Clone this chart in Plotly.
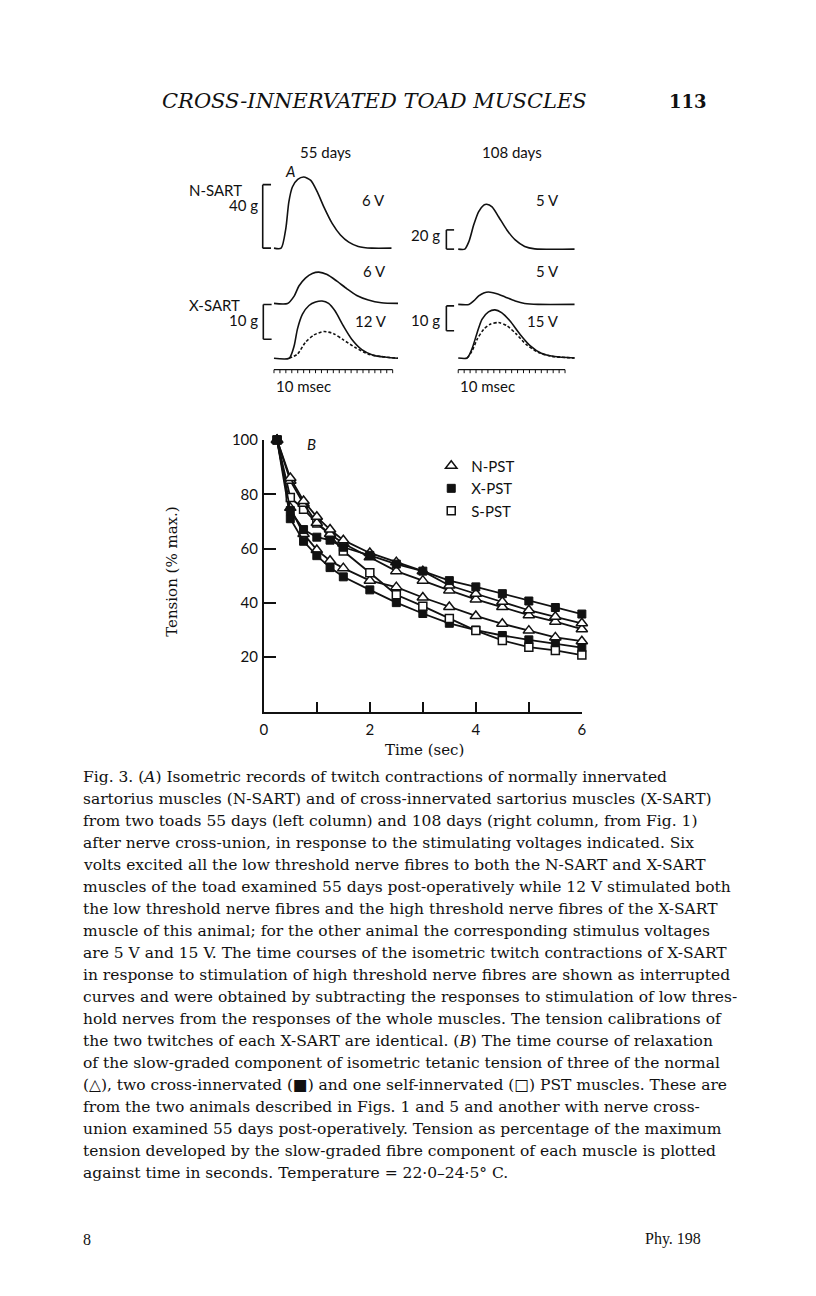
import plotly.graph_objects as go

W, H = 816, 1296

# ---------------- Panel B data (relaxation of slow-graded tension) ----------------
time_s = [0.25, 0.5, 0.75, 1.0, 1.25, 1.5, 2.0, 2.5, 3.0, 3.5, 4.0, 4.5, 5.0, 5.5, 6.0]
n_pst_1 = [100, 86, 77.5, 71.7, 67, 63.1, 58.4, 55, 51.7, 46.4, 43.4, 40.4, 37.3, 34.9, 32.5]
n_pst_2 = [100, 85, 76.5, 69.4, 65.4, 61.9, 56.8, 51.7, 48.2, 44.6, 41.3, 38.5, 35.5, 33.1, 30.3]
n_pst_3 = [100, 75, 65.4, 59.5, 55.5, 52.8, 48.2, 45.8, 42, 38.5, 35.2, 32.3, 29.8, 27.3, 25.9]
x_pst_1 = [100, 74, 67, 64.2, 63.1, 60.5, 57.5, 54.3, 51.7, 48.2, 45.9, 43.4, 40.7, 38.3, 35.9]
x_pst_2 = [100, 71, 62.7, 57.4, 53, 49.6, 44.8, 40.1, 36.1, 32.5, 30, 28, 26.4, 25, 23.5]
s_pst = [100, 78.8, 74.5, 69.4, 65, 59.1, 51.1, 43, 38.8, 34.3, 29.8, 26.2, 23.7, 22.5, 20.8]

x_tick_vals = [0, 1, 2, 3, 4, 5, 6]
x_tick_text = ["0", "", "2", "", "4", "", "6"]
y_tick_vals = [20, 40, 60, 80, 100]
y_tick_text = ["20", "40", "60", "80", "100"]

# ---------------- Panel A data (twitch records: time msec, tension g) ----------------
nsart55_ms = [0, 12, 20, 25, 31, 40, 50, 62, 73, 84, 98, 112, 126, 142, 165, 198]
nsart55_g = [0, 0, 12.5, 29, 38.5, 43.3, 44.8, 42.7, 35.4, 26, 15.6, 8.3, 3.8, 1.1, 0, 0]

xsart55_6v_ms = [0, 23, 34, 42, 53, 64.5, 75.5, 89.5, 106, 123, 139.5, 159, 181, 209]
xsart55_6v_g = [0, 0, 2.1, 5.0, 7.3, 8.6, 9.0, 8.3, 6.4, 4.2, 2.3, 1.0, 0.2, 0]

xsart55_12v_ms = [0, 25.5, 34, 39.5, 48, 59, 70, 81, 92, 103, 117, 131, 148, 167, 189.5, 209]
xsart55_12v_g = [0, 0, 3.6, 8.4, 12.7, 15.2, 16.2, 16.5, 15.8, 13.6, 9.3, 5.5, 2.5, 0.9, 0.3, 0]

xsart55_high_ms = [25.5, 39.5, 53, 67, 84, 100.5, 117, 137, 159, 181, 209]
xsart55_high_g = [0, 1.2, 4.6, 6.7, 7.7, 7.1, 5.3, 3.1, 1.2, 0.5, 0]

nsart108_ms = [0, 11, 18, 26, 34.5, 43, 48, 57, 68, 82, 96, 112, 129, 196]
nsart108_g = [0, 0, 7.9, 25, 38.9, 45.7, 46.7, 44, 33.7, 19.9, 9.6, 2.8, 0.3, 0]

xsart108_5v_ms = [0, 18, 26, 34.5, 43, 51, 65, 79, 96, 112, 134.5, 196]
xsart108_5v_g = [0, 0, 1.4, 3.4, 4.6, 5.0, 4.3, 3.0, 1.4, 0.4, 0, 0]

xsart108_15v_ms = [0, 15, 23, 32, 40, 51, 62, 73, 87, 104, 121, 140, 162, 196]
xsart108_15v_g = [0, 0, 3.6, 10.3, 15.6, 18.6, 19.4, 18.3, 15, 9.6, 5.0, 1.9, 0.6, 0]

xsart108_high_ms = [15, 23, 32, 43, 54, 68, 82, 98, 115, 134.5, 157, 196]
xsart108_high_g = [0, 2.7, 7.6, 11.6, 13.6, 14.3, 13, 9.6, 5.4, 2.3, 0.7, 0]

caption_lines = [
    "Fig. 3. (<i>A</i>) Isometric records of twitch contractions of normally innervated",
    "sartorius muscles (N-SART) and of cross-innervated sartorius muscles (X-SART)",
    "from two toads 55 days (left column) and 108 days (right column, from Fig. 1)",
    "after nerve cross-union, in response to the stimulating voltages indicated. Six",
    "volts excited all the low threshold nerve fibres to both the N-SART and X-SART",
    "muscles of the toad examined 55 days post-operatively while 12 V stimulated both",
    "the low threshold nerve fibres and the high threshold nerve fibres of the X-SART",
    "muscle of this animal; for the other animal the corresponding stimulus voltages",
    "are 5 V and 15 V. The time courses of the isometric twitch contractions of X-SART",
    "in response to stimulation of high threshold nerve fibres are shown as interrupted",
    "curves and were obtained by subtracting the responses to stimulation of low thres-",
    "hold nerves from the responses of the whole muscles. The tension calibrations of",
    "the two twitches of each X-SART are identical. (<i>B</i>) The time course of relaxation",
    "of the slow-graded component of isometric tetanic tension of three of the normal",
    "(\u25b3), two cross-innervated (\u25a0) and one self-innervated (\u25a1) PST muscles. These are",
    "from the two animals described in Figs. 1 and 5 and another with nerve cross-",
    "union examined 55 days post-operatively. Tension as percentage of the maximum",
    "tension developed by the slow-graded fibre component of each muscle is plotted",
    "against time in seconds. Temperature = 22\u00b70\u201324\u00b75\u00b0 C.",
]

# ---------------- geometry helpers ----------------
def xd(p0, p1):
    return [p0 / W, p1 / W]

def yd(pb, pt):
    return [1 - pb / H, 1 - pt / H]

def xdom_ms(zero_px, px_per_ms, lo, hi):
    return xd(zero_px + lo * px_per_ms, zero_px + hi * px_per_ms)

def ydom_g(base_px, px_per_g, lo, hi):
    return yd(base_px - lo * px_per_g, base_px - hi * px_per_g)

SANS = "Lato"
SERIF = "DejaVu Serif"
BLACK = "#111111"

fig = go.Figure()

# ---------------- Panel B traces ----------------
open_tri = dict(symbol="triangle-up", size=10, color="white", line=dict(color=BLACK, width=1.5))
fill_sq = dict(symbol="square", size=8, color=BLACK, line=dict(color=BLACK, width=1))
open_sq = dict(symbol="square", size=8, color="white", line=dict(color=BLACK, width=1.5))

series = [
    (n_pst_3, open_tri), (x_pst_2, fill_sq), (s_pst, open_sq),
    (n_pst_2, open_tri), (n_pst_1, open_tri), (x_pst_1, fill_sq),
]
for vals, mk in series:
    fig.add_trace(go.Scatter(x=time_s, y=vals, mode="lines+markers",
                             line=dict(color=BLACK, width=1.8), marker=mk,
                             cliponaxis=False, showlegend=False, xaxis="x", yaxis="y"))

for name, mk in [("N-PST", open_tri), ("X-PST", fill_sq), ("S-PST", open_sq)]:
    fig.add_trace(go.Scatter(x=[None], y=[None], mode="markers", marker=mk, name=name,
                             showlegend=True, xaxis="x", yaxis="y"))

# ---------------- Panel A traces ----------------
def rec(x, y, xa, ya, dash="solid"):
    fig.add_trace(go.Scatter(x=x, y=y, mode="lines", xaxis=xa, yaxis=ya, showlegend=False,
                             line=dict(color=BLACK, width=1.6, dash=dash, shape="spline", smoothing=0.7)))

rec(nsart55_ms, nsart55_g, "x2", "y2")
rec(xsart55_6v_ms, xsart55_6v_g, "x2", "y3")
rec(xsart55_12v_ms, xsart55_12v_g, "x2", "y4")
rec(xsart55_high_ms, xsart55_high_g, "x2", "y4", dash="3px,2px")
rec(nsart108_ms, nsart108_g, "x3", "y5")
rec(xsart108_5v_ms, xsart108_5v_g, "x3", "y6")
rec(xsart108_15v_ms, xsart108_15v_g, "x3", "y7")
rec(xsart108_high_ms, xsart108_high_g, "x3", "y7", dash="3px,2px")

hidden = dict(visible=False, showgrid=False, zeroline=False)

PXMS = 0.6
X55_0, X108_0 = 273.0, 459.3

fig.update_layout(
    width=W, height=H,
    margin=dict(l=0, r=0, t=0, b=0),
    paper_bgcolor="white", plot_bgcolor="rgba(0,0,0,0)",
    showlegend=True,
    legend=dict(x=432 / W, y=1 - 443 / H, xanchor="left", yanchor="top",
                font=dict(family=SANS, size=15, color=BLACK), bgcolor="rgba(0,0,0,0)",
                itemwidth=30, tracegroupgap=0),
    xaxis=dict(domain=xd(262.7, 584.3), range=[0, 6], anchor="y",
               showline=True, linecolor=BLACK, linewidth=1.6, mirror=False,
               ticks="inside", ticklen=10, tickwidth=1.6, tickcolor=BLACK,
               tickvals=x_tick_vals, ticktext=x_tick_text, ticklabelstandoff=4,
               tickfont=dict(family=SANS, size=15, color=BLACK),
               showgrid=False, zeroline=False, fixedrange=True),
    yaxis=dict(domain=yd(707, 433.3), range=[0, 100], anchor="x",
               showline=True, linecolor=BLACK, linewidth=1.6,
               ticks="inside", ticklen=12, tickwidth=1.6, tickcolor=BLACK,
               tickvals=y_tick_vals, ticktext=y_tick_text, ticklabelstandoff=1,
               tickfont=dict(family=SANS, size=15, color=BLACK),
               showgrid=False, zeroline=False, fixedrange=True),
    xaxis2=dict(domain=xdom_ms(X55_0, PXMS, -22, 212), range=[-22, 212], anchor="y2", **hidden),
    xaxis3=dict(domain=xdom_ms(X108_0, PXMS, -24, 200), range=[-24, 200], anchor="y5", **hidden),
    yaxis2=dict(domain=ydom_g(240, 1.6, -2, 50), range=[-2, 50], anchor="x2", **hidden),
    yaxis3=dict(domain=ydom_g(295.7, 3.5, -1, 10), range=[-1, 10], anchor="x2", **hidden),
    yaxis4=dict(domain=ydom_g(351, 3.5, -1, 18), range=[-1, 18], anchor="x2", **hidden),
    yaxis5=dict(domain=ydom_g(241, 0.97, -3, 52), range=[-3, 52], anchor="x3", **hidden),
    yaxis6=dict(domain=ydom_g(296.7, 2.5, -1, 6), range=[-1, 6], anchor="x3", **hidden),
    yaxis7=dict(domain=ydom_g(350.7, 2.5, -1, 22), range=[-1, 22], anchor="x3", **hidden),
)

# ---------------- calibration brackets ----------------
shapes = []
def bracket(xa, ya, xv, xend, y0, y1):
    ln = dict(color=BLACK, width=1.6)
    shapes.append(dict(type="line", xref=xa, yref=ya, x0=xv, x1=xv, y0=y0, y1=y1, line=ln))
    shapes.append(dict(type="line", xref=xa, yref=ya, x0=xv, x1=xend, y0=y0, y1=y0, line=ln))
    shapes.append(dict(type="line", xref=xa, yref=ya, x0=xv, x1=xend, y0=y1, y1=y1, line=ln))

bracket("x2", "y2", -19, -5, 0, 40)
bracket("x2", "y4", -18, -4, 5.5, 15.5)
bracket("x3", "y5", -20, -7, 0, 20)
bracket("x3", "y7", -20, -7, 11, 21)

# time-marker bars (10 msec intervals)
def timebar(xa, t_end):
    ln = dict(color=BLACK, width=1.3)
    ybar = 1 - 362.5 / H
    ytk = 1 - 366 / H
    shapes.append(dict(type="line", xref=xa, yref="paper", x0=0, x1=t_end, y0=ybar, y1=ybar, line=ln))
    for t in range(0, t_end + 1, 10):
        shapes.append(dict(type="line", xref=xa, yref="paper", x0=t, x1=t, y0=ybar, y1=ytk,
                           line=dict(color=BLACK, width=1)))

timebar("x2", 200)
timebar("x3", 180)
fig.update_layout(shapes=shapes)

# ---------------- text ----------------
ann = []
def txt(s, x, y, size=15, family=SANS, xanchor="center", yanchor="middle", angle=0):
    ann.append(dict(text=s, x=x / W, y=1 - y / H, xref="paper", yref="paper",
                    xanchor=xanchor, yanchor=yanchor, showarrow=False, textangle=angle,
                    font=dict(family=family, size=size, color=BLACK)))

# header
txt("<i>CROSS-INNERVATED TOAD MUSCLES</i>", 375, 92, size=21, family=SERIF)
txt("<b>113</b>", 692, 92, size=18, family=SERIF)

# panel A labels
txt("55 days", 325, 143)
txt("108 days", 514, 143)
txt("<i>A</i>", 289, 162)
txt("N-SART", 185, 181, xanchor="left")
txt("40 g", 259, 197, xanchor="right")
txt("6 V", 374, 191)
txt("20 g", 443, 227, xanchor="right")
txt("5 V", 550, 191)
txt("6 V", 375, 263)
txt("5 V", 550, 263)
txt("X-SART", 185, 297, xanchor="left")
txt("10 g", 259, 312, xanchor="right")
txt("12 V", 371, 313)
txt("10 g", 443, 312, xanchor="right")
txt("15 V", 545, 313)
txt("10 msec", 273, 379, xanchor="left")
txt("10 msec", 459, 379, xanchor="left")

# panel B labels
txt("<i>B</i>", 311, 437)
txt("Time (sec)", 425, 746, size=15, family=SERIF)
txt("Tension (% max.)", 170, 566, size=15, family=SERIF, angle=-90)

# caption
for i, line in enumerate(caption_lines):
    txt(line, 78, 773 + 22.15 * i, size=15.5, family=SERIF, xanchor="left")

# footer
txt("8", 78, 1239, size=16, family="Liberation Serif", xanchor="left")
txt("Phy. 198", 707, 1239, size=16, family="Liberation Serif", xanchor="right")

fig.update_layout(annotations=ann)

fig.write_html("out.html", config={"displayModeBar": False},
               post_script="document.body.style.margin='0';")
